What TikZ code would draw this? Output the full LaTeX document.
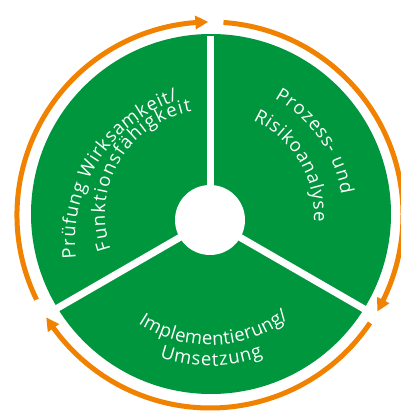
\documentclass[tikz,border=0pt]{standalone}
\usepackage{fontspec}
\setmainfont{Open Sans}
\usetikzlibrary{arrows.meta,bending,decorations.text,calc}
\definecolor{grn}{RGB}{0,150,62}
\definecolor{org}{RGB}{240,130,0}
\newcommand\arcfont{\fontsize{18.5}{22}\selectfont}
\tikzset{
  arctext/.style={decorate, decoration={text along path, text align={fit to path}, text color=white, text={|\arcfont|#1}}},
  spoke/.style={white, line width=7pt},
  ring/.style={org, line width=5pt, -{Triangle[length=13pt,width=13pt,bend]}}
}
\begin{document}
\begin{tikzpicture}[x=1pt,y=1pt]
\useasboundingbox[fill=white] (0,0) rectangle (401,412);
\coordinate (O) at (210,197);
\coordinate (G) at (211,198);
\coordinate (I) at (210,192);
\coordinate (L) at (224,170);
% green disc
\fill[grn] (G) circle[radius=180pt];
% spokes
\draw[spoke] (I) -- ($(I)+(90:184pt)$);
\draw[spoke] (I) -- ($(I)+(210:184pt)$);
\draw[spoke] (I) -- ($(I)+(330:184pt)$);
\fill[white] (I) circle[radius=35pt];
% orange arrows
\draw[ring] ($(O)+(206:193pt)$) arc[start angle=206, end angle=90.5, radius=193pt];
\draw[ring] ($(O)+(86:193pt)$) arc[start angle=86, end angle=-30, radius=193pt];
\draw[ring] ($(O)+(-34:193pt)$) arc[start angle=-34, end angle=-148, radius=193pt];
% texts
\path[arctext={Prüfung Wirksamkeit/}] ($(L)+(186.2:149pt)$) arc[start angle=186.2, end angle=108, radius=149pt];
\path[arctext={Funktionsfähigkeit}] ($(O)+(199:105pt)$) arc[start angle=199, end angle=100, radius=105pt];
\path[arctext={Prozess- und}] ($(O)+(61:133pt)$) arc[start angle=61, end angle=9, radius=133pt];
\path[arctext={Risikoanalyse}] ($(O)+(65.6:104pt)$) arc[start angle=65.6, end angle=-3.6, radius=104pt];
\path[arctext={Implementierung/}] ($(O)+(236.5:130pt)$) arc[start angle=236.5, end angle=307.5, radius=130pt];
\path[arctext={Umsetzung}] ($(O)+(250.5:151pt)$) arc[start angle=250.5, end angle=290.5, radius=151pt];
\end{tikzpicture}
\end{document}
